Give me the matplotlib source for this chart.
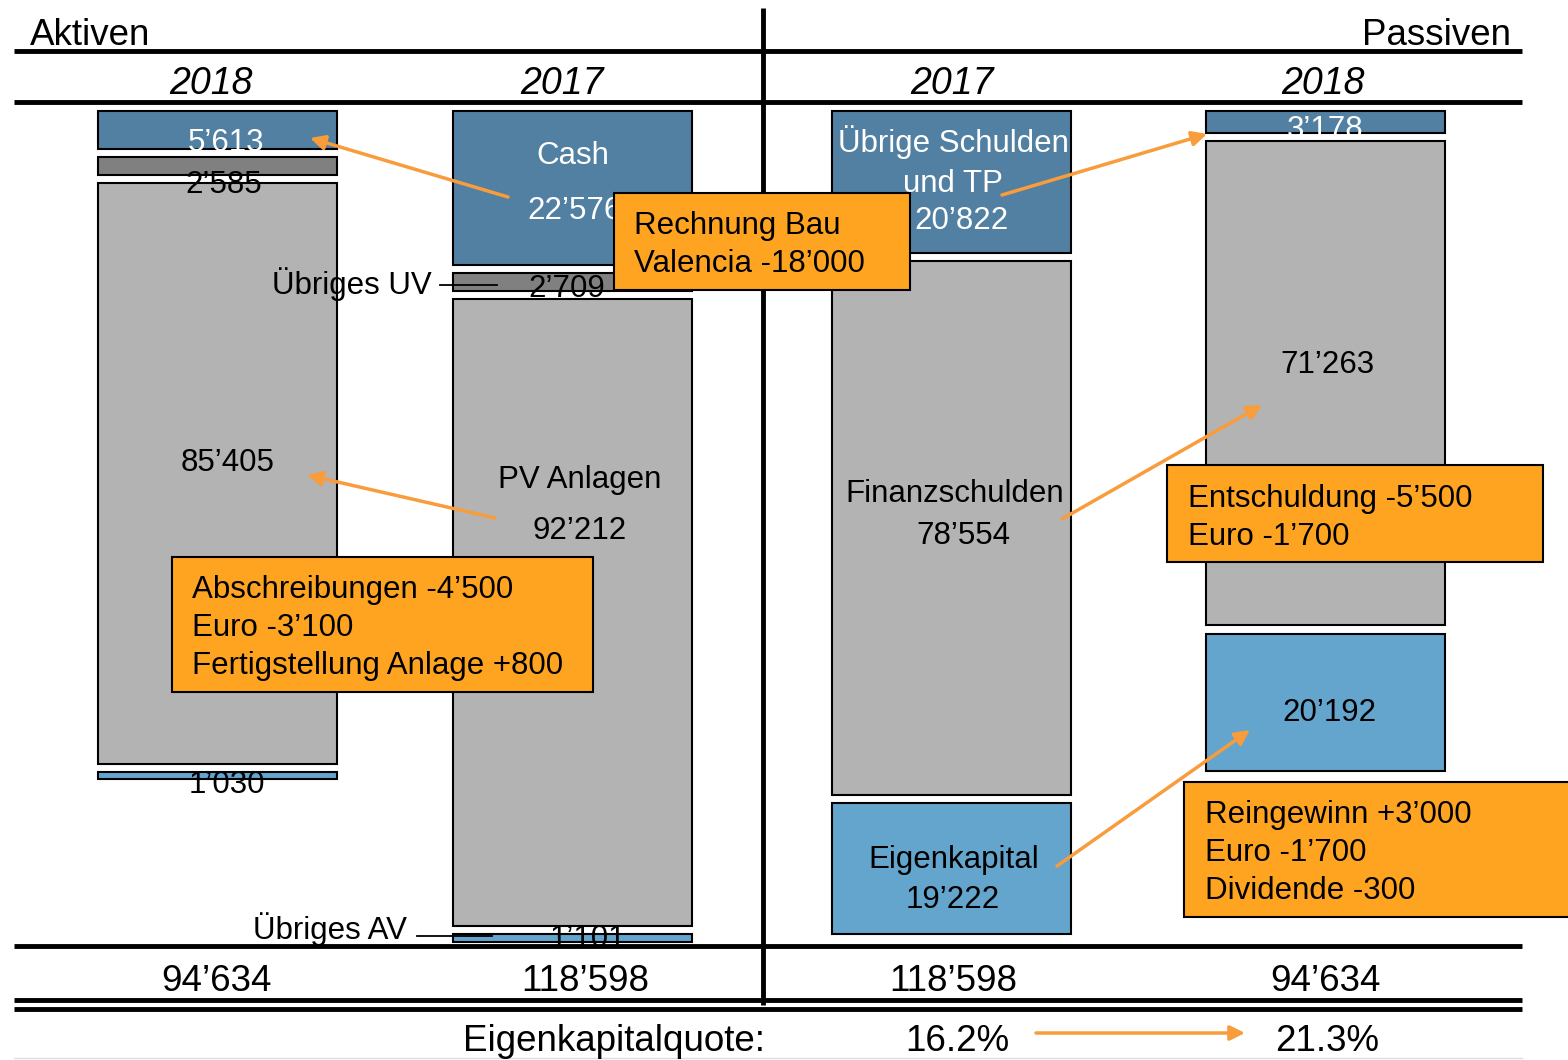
import matplotlib
matplotlib.use("Agg")
import matplotlib.pyplot as plt
from matplotlib.patches import Rectangle

plt.rcParams["font.family"] = ["Liberation Sans", "DejaVu Sans"]

W, H = 1568, 1060

# balance sheet values (CHF thousands), top to bottom in each column
years = ["2018", "2017", "2017", "2018"]
aktiven_2018 = [5613, 2585, 85405, 1030]
aktiven_2017 = [22576, 2709, 92212, 1101]
passiven_2017 = [20822, 78554, 19222]
passiven_2018 = [3178, 71263, 20192]
totals = [94634, 118598, 118598, 94634]
ek_quote = ["16.2%", "21.3%"]

note_cash = ["Rechnung Bau", "Valencia -18’000"]
note_av = ["Abschreibungen -4’500", "Euro -3’100", "Fertigstellung Anlage +800"]
note_debt = ["Entschuldung -5’500", "Euro -1’700"]
note_ek = ["Reingewinn +3’000", "Euro -1’700", "Dividende -300"]

DARK = "#5280a2"
GREY = "#b3b3b3"
DGREY = "#808080"
LIGHT = "#64a5cd"
ORANGE = "#ffa421"
ARROW = "#f89c3c"


def fmt(v):
    return f"{v:,}".replace(",", "’")


fig = plt.figure(figsize=(W / 100, H / 100), dpi=100)

# bars axis: y in CHF thousands, 0 at the top of the columns
Y0, S = 111, 0.0068
GAP = 1200
ax = fig.add_axes([0, 0, 1, 1], zorder=1)
ax.set_xlim(0, W)
ax.set_ylim((H - Y0) / S, -Y0 / S)
ax.axis("off")

# layout axis in pixels for lines, text and notes
lay = fig.add_axes([0, 0, 1, 1], zorder=2)
lay.set_xlim(0, W)
lay.set_ylim(H, 0)
lay.axis("off")
lay.patch.set_alpha(0)

cols = [
    (218, aktiven_2018, [DARK, DGREY, GREY, LIGHT]),
    (573, aktiven_2017, [DARK, DGREY, GREY, LIGHT]),
    (952, passiven_2017, [DARK, GREY, LIGHT]),
    (1326, passiven_2018, [DARK, GREY, LIGHT]),
]
for xc, vals, colors in cols:
    bottom = 0
    for v, c in zip(vals, colors):
        ax.bar(xc, v, bottom=bottom, width=239, color=c, edgecolor="black",
               linewidth=1.5)
        bottom += v + GAP


def txt(x, yc, s, size=22.5, ha="center", **kw):
    # yc is the middle of the capital letters
    lay.text(x, yc + 0.36 * size * 100 / 72, s, fontsize=size, ha=ha,
             va="baseline", **kw)


# labels inside the bars
txt(226, 140, fmt(aktiven_2018[0]), color="white")
txt(224, 182, fmt(aktiven_2018[1]))
txt(228, 460, fmt(aktiven_2018[2]))
txt(227, 782, fmt(aktiven_2018[3]))

txt(573, 153, "Cash", color="white")
txt(575, 208, fmt(aktiven_2017[0]), color="white")
txt(567, 286, fmt(aktiven_2017[1]))
txt(580, 477, "PV Anlagen")
txt(580, 528, fmt(aktiven_2017[2]))
txt(588, 936, fmt(aktiven_2017[3]))

txt(953, 141, "Übrige Schulden", color="white")
txt(953, 181, "und TP", color="white")
txt(962, 218, fmt(passiven_2017[0]), color="white")
txt(955, 491, "Finanzschulden")
txt(963, 533, fmt(passiven_2017[1]))
txt(954, 857, "Eigenkapital")
txt(953, 897, fmt(passiven_2017[2]))

txt(1325, 127, fmt(passiven_2018[0]), color="white")
txt(1327, 362, fmt(passiven_2018[1]))
txt(1329, 710, fmt(passiven_2018[2]))

# side labels with leader lines
txt(432, 283, "Übriges UV", ha="right")
lay.plot([440, 497], [285, 285], color="black", lw=1.3, zorder=3)
txt(407, 928, "Übriges AV", ha="right")
lay.plot([417, 492], [936, 936], color="black", lw=1.3, zorder=3)

# frame lines
for y in [51, 102, 946, 1000, 1009]:
    lay.plot([14, 1522], [y, y], color="black", lw=3.5, solid_capstyle="butt")
lay.plot([763, 763], [8, 1005], color="black", lw=3.5, solid_capstyle="butt")
lay.plot([14, 1522], [1058, 1058], color="#dddddd", lw=1)

# headers and totals
txt(30, 32, "Aktiven", size=26.5, ha="left")
txt(1511, 32, "Passiven", size=26.5, ha="right")
for xc, y in zip([211, 562, 952, 1323], years):
    txt(xc, 80, y, size=27, style="italic")
for xc, t in zip([217, 585, 953, 1326], totals):
    txt(xc, 978, fmt(t), size=26.5)
txt(765, 1038, "Eigenkapitalquote:", size=26.5, ha="right")
txt(957, 1038, ek_quote[0], size=26.5)
txt(1327, 1038, ek_quote[1], size=26.5)


def arrow(x0, y0, x1, y1):
    lay.annotate("", xy=(x1, y1), xytext=(x0, y0), zorder=5,
                 arrowprops=dict(arrowstyle="-|>", color=ARROW, lw=2.5,
                                 mutation_scale=22, shrinkA=0, shrinkB=0))


def note(x0, y0, x1, y1, lines, tx, ty, step=38):
    lay.add_patch(Rectangle((x0, y0), x1 - x0, y1 - y0, facecolor=ORANGE,
                            edgecolor="black", lw=1.5, zorder=4))
    for i, s in enumerate(lines):
        lay.text(tx, ty + i * step + 0.36 * 22.5 * 100 / 72, s, fontsize=22.5,
                 ha="left", va="baseline", zorder=6)


arrow(508, 197, 310, 138)
arrow(495, 518, 307, 475)
arrow(1002, 195, 1207, 134)
arrow(1062, 519, 1262, 405)
arrow(1057, 866, 1250, 730)
arrow(1036, 1033, 1245, 1033)

note(614, 193, 910, 290, note_cash, 634, 223)
note(172, 557, 593, 692, note_av, 192, 587)
note(1167, 465, 1543, 562, note_debt, 1188, 496)
note(1184, 782, 1590, 917, note_ek, 1205, 812)

fig.savefig("out.png", dpi=100)
